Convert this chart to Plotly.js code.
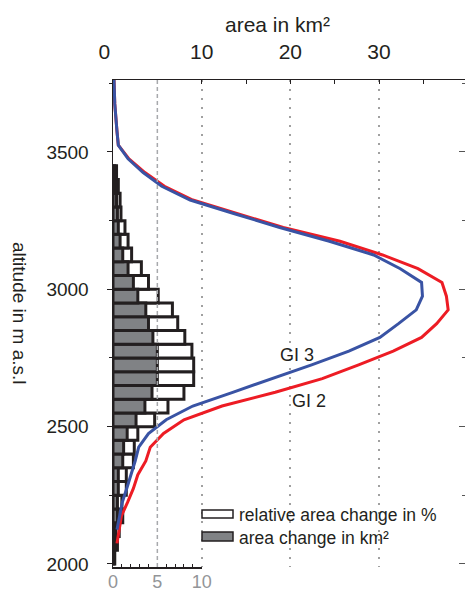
<!DOCTYPE html>
<html><head><meta charset="utf-8">
<script src="https://cdn.plot.ly/plotly-3.0.1.min.js"></script>
<style>html,body{margin:0;padding:0;background:#fff}</style>
</head><body><div id="chart" style="width:465px;height:592px"></div>
<script>
// ---- data ----
const altitudeBins = [2025,2075,2125,2175,2225,2275,2325,2375,2425,2475,2525,2575,2625,2675,2725,2775,2825,2875,2925,2975,3025,3075,3125,3175,3225,3275,3325,3375,3425];
const relativeAreaChangePct = [0.2,0.5,0.7,1.1,1.0,1.5,1.5,2.3,2.4,2.8,4.7,6.2,8.0,9.1,9.1,8.9,8.1,7.3,6.7,5.1,4.0,3.2,2.1,1.7,1.35,0.9,0.8,0.6,0.4];
const areaChangeKm2 = [0.1,0.2,0.3,0.5,0.5,0.6,0.6,1.1,1.2,1.6,2.6,3.6,4.4,5.0,5.0,5.0,4.5,4.0,3.7,2.8,2.3,1.7,1.1,0.8,0.6,0.5,0.4,0.3,0.2];

const gi3Altitudes = [2125,2175,2225,2275,2325,2375,2425,2475,2525,2575,2625,2675,2725,2775,2825,2875,2925,2975,3025,3075,3125,3175,3225,3275,3325,3375,3425,3475,3525,3575,3625,3675,3725,3775];
const gi3Area = [0.45,0.75,1.05,1.55,2.05,2.5,2.9,4.0,6.0,9.0,13.5,18.0,22.4,26.6,30.1,32.2,34.2,34.9,34.8,32.4,29.4,24.4,18.8,13.7,8.7,5.5,3.4,1.7,0.6,0.45,0.3,0.2,0.15,0.1];

const gi2Altitudes = [2075,2125,2175,2225,2275,2325,2375,2425,2475,2525,2575,2625,2675,2725,2775,2825,2875,2925,2975,3025,3075,3125,3175,3225,3275,3325,3375,3425,3475,3525,3575,3625,3675,3725,3775];
const gi2Area = [0.45,0.73,0.95,1.65,2.3,2.8,3.7,4.2,5.7,8.0,12.3,18.3,23.6,27.7,31.6,34.8,36.5,37.8,37.6,37.1,34.4,30.4,25.6,19.2,14.1,9.0,5.8,3.6,1.8,0.6,0.45,0.3,0.2,0.15,0.1];

const areaTicks = [0,10,20,30];
const areaTickText = ['0\u00a0\u00a0\u00a0','10','20','30'];
const changeTicks = [0,5,10];
const altitudeTicks = [2000,2500,3000,3500];

// ---- geometry helpers ----
const W = 465, H = 592, L = 113, R = 465, T = 80, B = 567;
const XMAX = (R - L) / 8.867;
const Y0 = 1989, Y1 = 3762;
const xp = px => (px - L) / (R - L);
const yp = py => (B - py) / (B - T);

const ink = '#231f20';
const font = 'Liberation Sans, Arial, sans-serif';

const traces = [
  {type:'bar', orientation:'h', y: altitudeBins, x: relativeAreaChangePct, width: 50,
   xaxis:'x', yaxis:'y', marker:{color:'#ffffff', line:{color:ink, width:3}}, name:'relative area change in %', showlegend:false},
  {type:'bar', orientation:'h', y: altitudeBins, x: areaChangeKm2, width: 50,
   xaxis:'x', yaxis:'y', marker:{color:'#808285', line:{color:ink, width:3}}, name:'area change in km²', showlegend:false},
  {type:'scatter', mode:'lines', x: gi2Area, y: gi2Altitudes, xaxis:'x2', yaxis:'y',
   line:{color:'#ed1c24', width:3}, name:'GI 2', showlegend:false},
  {type:'scatter', mode:'lines', x: gi3Area, y: gi3Altitudes, xaxis:'x2', yaxis:'y',
   line:{color:'#3953a4', width:3}, name:'GI 3', showlegend:false},
  {type:'scatter', mode:'lines', x: [], y: [], xaxis:'x2', yaxis:'y2', showlegend:false, hoverinfo:'skip'}
];

const layout = {
  width: W, height: H,
  margin:{l:L, r:W-R, t:T, b:H-B, pad:0},
  paper_bgcolor:'#ffffff', plot_bgcolor:'rgba(0,0,0,0)',
  font:{family:font, color:ink},
  barmode:'overlay', bargap:0,
  showlegend:false,
  xaxis:{domain:[0, 10/XMAX], range:[0,10], anchor:'y', side:'bottom',
    showline:true, linecolor:ink, linewidth:1.5, zeroline:false, showgrid:false,
    tickmode:'array', tickvals: changeTicks, ticks:'inside', ticklen:4, tickwidth:1, tickcolor:ink,
    minor:{dtick:1, tick0:0, ticks:'inside', ticklen:3, tickcolor:ink, tickwidth:1},
    tickfont:{size:18, color:'#939598', family:font}, ticklabelstandoff:-2},
  xaxis2:{domain:[0,1], range:[0, XMAX], anchor:'y', side:'top',
    showline:true, linecolor:ink, linewidth:1.5, zeroline:false,
    showgrid:true, gridcolor:'#a0a0a0', gridwidth:2, griddash:'2px,7px',
    tickmode:'array', tickvals: areaTicks, ticktext: areaTickText,
    ticks:'inside', ticklen:4, tickwidth:1, tickcolor:ink,
    minor:{dtick:5, tick0:0, ticks:'inside', ticklen:4, tickcolor:ink, tickwidth:1},
    tickfont:{size:21, color:ink, family:font}, ticklabelstandoff:11},
  yaxis:{domain:[0,1], range:[Y0, Y1], anchor:'x',
    showline:true, linecolor:ink, linewidth:1.5, zeroline:false, showgrid:false,
    tickmode:'array', tickvals: altitudeTicks, ticks:'outside', ticklen:5, tickwidth:1, tickcolor:ink,
    minor:{dtick:250, tick0:2000, ticks:'outside', ticklen:3, tickcolor:ink, tickwidth:1},
    tickfont:{size:19, color:ink, family:font}, ticklabelstandoff:14},
  yaxis2:{overlaying:'y', side:'right', anchor:'x2', range:[Y0, Y1],
    showline:false, zeroline:false, showgrid:false, showticklabels:false,
    tickmode:'array', tickvals: altitudeTicks, ticks:'inside', ticklen:6, tickwidth:1, tickcolor:'#555',
    minor:{dtick:250, tick0:2000, ticks:'inside', ticklen:3, tickcolor:'#555', tickwidth:1}},
  shapes:[
    {type:'line', xref:'x2', yref:'paper', x0:5, x1:5, y0:0, y1:1, layer:'above',
     line:{color:'#a7a9ac', width:1.5, dash:'4px,3px'}},
    {type:'rect', xref:'paper', yref:'paper', x0:xp(202), x1:xp(233), y0:yp(518), y1:yp(510),
     fillcolor:'#ffffff', line:{color:ink, width:1.5}},
    {type:'rect', xref:'paper', yref:'paper', x0:xp(202), x1:xp(233), y0:yp(541), y1:yp(532),
     fillcolor:'#808285', line:{color:ink, width:1.5}}
  ],
  annotations:[
    {text:'altitude in m a.s.l', xref:'paper', yref:'paper', x:xp(20), y:yp(313), textangle:90,
     showarrow:false, xanchor:'center', yanchor:'middle', font:{size:19, color:ink, family:font}},
    {text:'area in km²', xref:'paper', yref:'paper', x:xp(277), y:yp(24),
     showarrow:false, xanchor:'center', yanchor:'middle', font:{size:21, color:ink, family:font}},
    {text:'GI 3', xref:'paper', yref:'paper', x:xp(297), y:yp(355),
     showarrow:false, xanchor:'center', yanchor:'middle', font:{size:18, color:ink, family:font}},
    {text:'GI 2', xref:'paper', yref:'paper', x:xp(309), y:yp(401),
     showarrow:false, xanchor:'center', yanchor:'middle', font:{size:18, color:ink, family:font}},
    {text:'relative area change in %', xref:'paper', yref:'paper', x:xp(237), y:yp(515),
     showarrow:false, xanchor:'left', yanchor:'middle', font:{size:17.5, color:ink, family:font}},
    {text:'area change in km²', xref:'paper', yref:'paper', x:xp(237), y:yp(538),
     showarrow:false, xanchor:'left', yanchor:'middle', font:{size:17.5, color:ink, family:font}}
  ]
};

Plotly.newPlot('chart', traces, layout, {staticPlot:true, displayModeBar:false});
</script></body></html>
